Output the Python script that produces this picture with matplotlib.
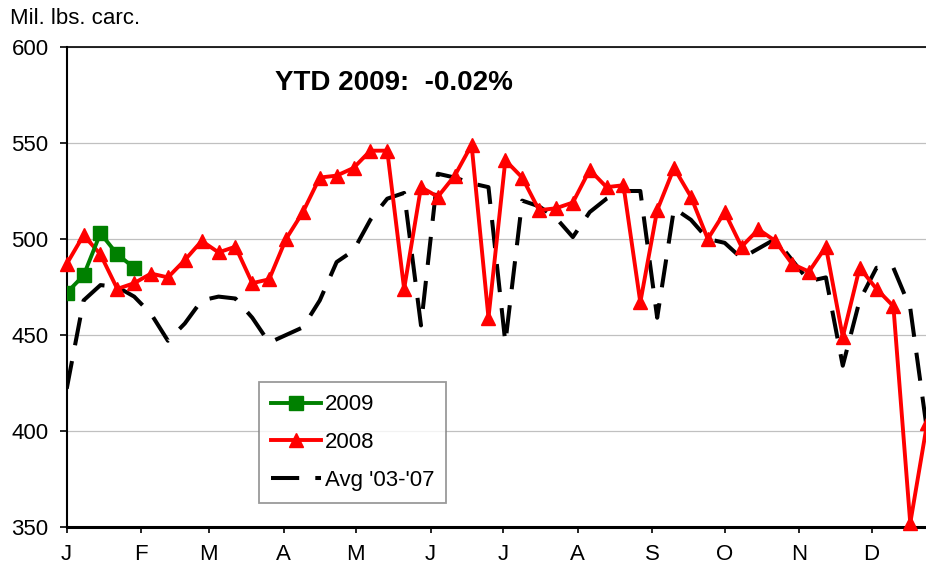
import numpy as np
import matplotlib
matplotlib.use("Agg")
import matplotlib.pyplot as plt

plt.rcParams['font.family'] = ['Liberation Sans', 'DejaVu Sans']

# ---- data ----
month_labels = ['J', 'F', 'M', 'A', 'M', 'J', 'J', 'A', 'S', 'O', 'N', 'D']
month_start_days = [0, 31, 59, 90, 120, 151, 181, 212, 243, 273, 304, 334]
week_index = np.arange(52)

y2009 = [472, 481, 503, 492, 485]
y2008 = [487, 502, 492, 474, 477, 482, 480, 489, 499, 493, 496, 477, 479, 500,
         514, 532, 533, 537, 546, 546, 474, 527, 522, 533, 549, 459, 541, 532,
         515, 516, 519, 536, 527, 528, 467, 515, 537, 522, 500, 514, 496, 505,
         499, 487, 483, 496, 449, 485, 474, 465, 352, 404]
avg_03_07 = [422, 468, 476, 475, 470, 461, 447, 456, 468, 470, 469, 459, 446, 450,
             454, 468, 488, 494, 510, 521, 524, 455, 534, 532, 529, 527, 446, 520,
             517, 511, 501, 514, 521, 525, 525, 459, 516, 510, 500, 498, 490, 495,
             500, 489, 478, 480, 434, 468, 485, 485, 464, 400]
y_ticks = [350, 400, 450, 500, 550, 600]

days = week_index * 7

W, H = 926, 573
fig = plt.figure(figsize=(W / 100, H / 100), dpi=100)
left_px, right_px, top_px, bot_px = 66.7, 946.4, 47, 527
ax = fig.add_axes([left_px / W, 1 - bot_px / H, (right_px - left_px) / W, (bot_px - top_px) / H])

ax.plot(days, avg_03_07, color='black', lw=2.9, linestyle=(0, (7, 4)),
        dash_capstyle='butt', label="Avg '03-'07", zorder=3)
ax.plot(days, y2008, color='#FF0000', lw=2.8, marker='^', ms=9.5,
        label='2008', zorder=4, clip_on=False)
ax.plot(days[:len(y2009)], y2009, color='#008000', lw=2.8, marker='s', ms=10,
        label='2009', zorder=5)

ax.set_xlim(0, 365)
ax.set_ylim(350, 600)
ax.set_yticks(y_ticks)
ax.set_yticklabels([str(v) for v in y_ticks], fontsize=16)
ax.set_xticks(month_start_days)
ax.set_xticklabels(month_labels, fontsize=16)
ax.tick_params(axis='y', length=5, width=1.2, pad=8, colors='black')
ax.tick_params(axis='x', length=4.5, width=1.2, pad=7.5, colors='black')
for t in ax.get_xticklines():
    t.set_color('#404040')

ax.grid(axis='y', color='#C0C0C0', lw=0.9)
ax.set_axisbelow(True)
ax.spines['left'].set_linewidth(1.5)
ax.spines['bottom'].set_linewidth(2.2)
ax.spines['top'].set_linewidth(1.2)
ax.spines['right'].set_visible(False)

handles, labels = ax.get_legend_handles_labels()
order = [2, 1, 0]
leg = ax.legend([handles[i] for i in order], [labels[i] for i in order],
                loc='lower left', bbox_to_anchor=(0.2186, 0.05),
                borderaxespad=0, fontsize=16, frameon=True, fancybox=False,
                handlelength=2.25, handletextpad=0.15, labelspacing=0.75,
                borderpad=0.55)
leg.get_frame().set_edgecolor('#808080')
leg.get_frame().set_linewidth(1.3)

fig.text(275 / W, 1 - 83 / H, 'YTD 2009:  -0.02%', fontsize=20, fontweight='bold',
         ha='left', va='center')
fig.text(10 / W, 1 - 24.5 / H, 'Mil. lbs. carc.', fontsize=16, ha='left', va='baseline')

fig.savefig('out.png', dpi=100)
